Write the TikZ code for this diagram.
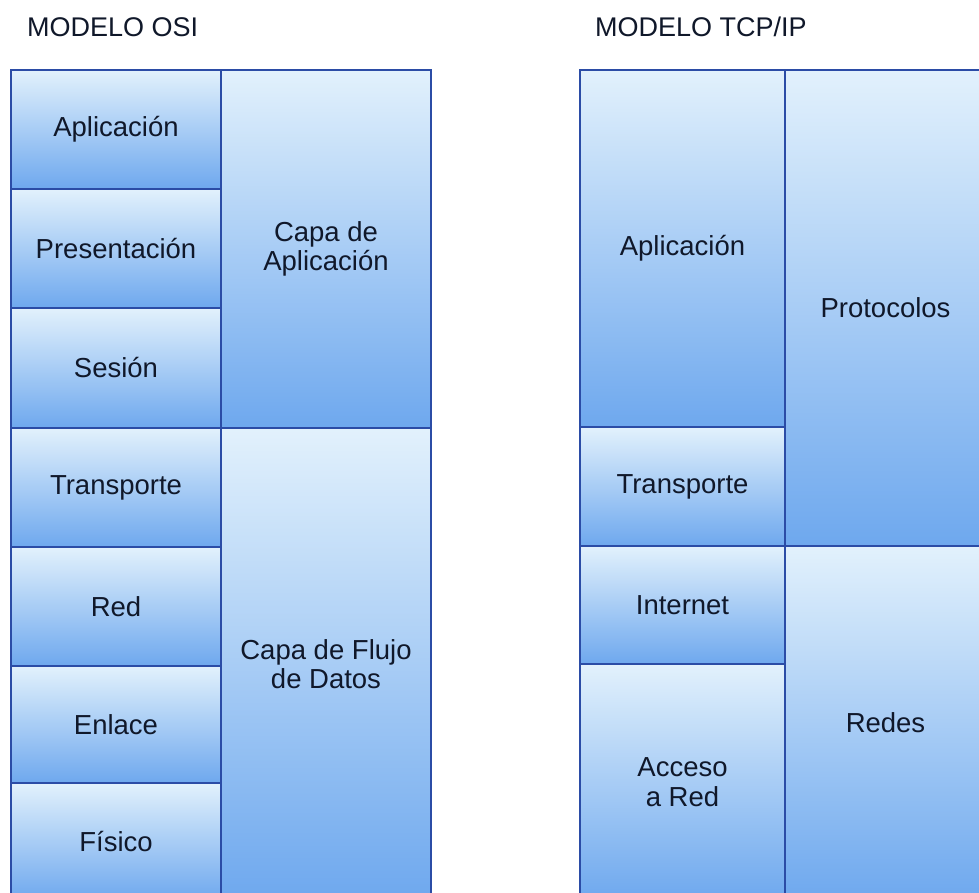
\documentclass[tikz,border=0pt]{standalone}
\usepackage{fontspec}
\setmainfont{Liberation Sans}
\definecolor{boxtop}{HTML}{E2F1FC}
\definecolor{boxmid}{HTML}{B6D6F7}
\definecolor{boxbot}{HTML}{6EA8EE}
\definecolor{boxline}{HTML}{2B4CA6}
\definecolor{ink}{HTML}{10182A}
\tikzset{
  layer/.style={rectangle, draw=boxline, line width=2pt,
    top color=boxtop, middle color=boxmid, bottom color=boxbot,
    text=ink, align=center, inner sep=0pt,
    font=\fontsize{27.5}{29.5}\selectfont},
  heading/.style={anchor=base west, inner sep=0pt, text=ink,
    font=\fontsize{27}{30}\selectfont}
}
\begin{document}
\begin{tikzpicture}[x=1pt,y=-1pt]
\useasboundingbox (0,0) rectangle (979,893);
\fill[white] (0,0) rectangle (979,893);
\clip (0,0) rectangle (979,893);

% headings
\node[heading] (tosi) at (27,37) {MODELO OSI};
\node[heading] (ttcp) at (595,37) {MODELO TCP/IP};

% OSI model: seven layers
\node[layer, minimum width=210pt, minimum height=119pt] (o1) at (116,129.5) {Aplicación};
\node[layer, minimum width=210pt, minimum height=119pt] (o2) at (116,248.5) {Presentación};
\node[layer, minimum width=210pt, minimum height=120pt] (o3) at (116,368) {Sesión};
\node[layer, minimum width=210pt, minimum height=119pt] (o4) at (116,487.5) {Transporte};
\node[layer, minimum width=210pt, minimum height=119pt] (o5) at (116,606.5) {Red};
\node[layer, minimum width=210pt, minimum height=117pt] (o6) at (116,724.5) {Enlace};
\node[layer, minimum width=210pt, minimum height=117pt] (o7) at (116,841.5) {Físico};

% OSI groups
\node[layer, minimum width=210pt, minimum height=358pt] (og1) at (326,249) {Capa de\\Aplicación};
\node[layer, minimum width=210pt, minimum height=472pt] (og2) at (326,664) {Capa de Flujo\\de Datos};

% TCP/IP model: four layers
\node[layer, minimum width=205pt, minimum height=357pt] (t1) at (682.5,248.5) {Aplicación};
\node[layer, minimum width=205pt, minimum height=119pt] (t2) at (682.5,486.5) {Transporte};
\node[layer, minimum width=205pt, minimum height=118pt] (t3) at (682.5,605) {Internet};
\node[layer, minimum width=205pt, minimum height=236pt] (t4) at (682.5,782) {Acceso\\a Red};

% TCP/IP groups
\node[layer, minimum width=201pt, minimum height=476pt] (tg1) at (885.5,308) {Protocolos};
\node[layer, minimum width=201pt, minimum height=354pt] (tg2) at (885.5,723) {Redes};
\end{tikzpicture}
\end{document}
